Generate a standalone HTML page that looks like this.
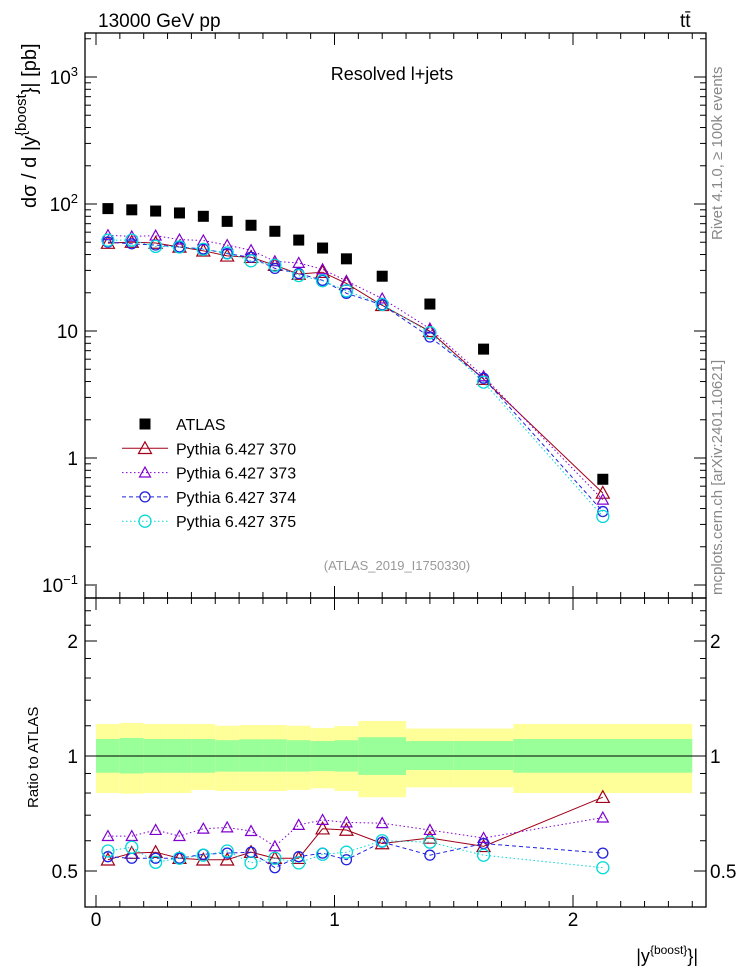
<!DOCTYPE html>
<html><head><meta charset="utf-8"><style>
body{margin:0;background:#fff}
svg{display:block;font-family:"Liberation Sans",sans-serif}
</style></head><body>
<svg id="c" width="746" height="972" xmlns="http://www.w3.org/2000/svg">
<text x="98" y="27" font-size="19">13000 GeV pp</text>
<text x="680" y="27" font-size="19">tt̄</text>
<text x="392" y="80" font-size="18" text-anchor="middle">Resolved l+jets</text>
<text x="397" y="570" font-size="13" fill="#999" text-anchor="middle">(ATLAS_2019_I1750330)</text>
<text transform="translate(722,240) rotate(-90)" font-size="15" fill="#888">Rivet 4.1.0, ≥ 100k events</text>
<text transform="translate(722,595) rotate(-90)" font-size="15" fill="#888">mcplots.cern.ch [arXiv:2401.10621]</text>
<text transform="translate(36,208) rotate(-90)" font-size="20">dσ / d |y<tspan dy="-10" font-size="15">{boost</tspan><tspan dy="10">}| [pb]</tspan></text>
<text transform="translate(38,808) rotate(-90)" font-size="15">Ratio to ATLAS</text>
<text x="698" y="962" font-size="18" text-anchor="end">|y<tspan dy="-8" font-size="12">{boost}</tspan><tspan dy="8">}|</tspan></text>
<g id="bands"></g><g id="marks"></g><g id="axes"></g><g id="legend"></g>
</svg>
<script>
const binLo=[0,0.1,0.2,0.3,0.4,0.5,0.6,0.7,0.8,0.9,1.0,1.1,1.3,1.5,1.75];
const binHi=[0.1,0.2,0.3,0.4,0.5,0.6,0.7,0.8,0.9,1.0,1.1,1.3,1.5,1.75,2.5];
const xCenters=[0.05,0.15,0.25,0.35,0.45,0.55,0.65,0.75,0.85,0.95,1.05,1.2,1.4,1.625,2.125];
const atlas=[92,90,88,85,80,73,68,61,52,45,37,27,16.3,7.2,0.68];
const r370=[0.535,0.557,0.56,0.54,0.535,0.535,0.56,0.54,0.54,0.645,0.64,0.59,0.61,0.58,0.78];
const r373=[0.617,0.617,0.64,0.617,0.645,0.65,0.636,0.58,0.66,0.68,0.67,0.667,0.64,0.61,0.69];
const r374=[0.545,0.54,0.54,0.54,0.553,0.557,0.56,0.51,0.545,0.557,0.535,0.595,0.55,0.59,0.557];
const r375=[0.564,0.577,0.527,0.54,0.55,0.564,0.525,0.54,0.525,0.553,0.56,0.6,0.595,0.55,0.51];
const yelTop=[1.213,1.22,1.213,1.213,1.213,1.20,1.205,1.205,1.20,1.184,1.198,1.235,1.18,1.18,1.213];
const grnTop=[1.108,1.115,1.108,1.108,1.108,1.10,1.106,1.106,1.10,1.094,1.10,1.12,1.094,1.094,1.108];
const grnBot=[0.904,0.90,0.904,0.904,0.904,0.91,0.91,0.91,0.91,0.913,0.91,0.892,0.919,0.919,0.904];
const yelBot=[0.80,0.797,0.80,0.80,0.815,0.81,0.81,0.81,0.815,0.823,0.81,0.78,0.828,0.828,0.80];
const xTicks=[0,1,2];
const yTicksMain=[0.1,1,10,100,1000];
const yTicksRatio=[0.5,1,2];

const NS="http://www.w3.org/2000/svg";
const L=85,Rt=706,T=33,MB=598,RB=907;
const X=v=>96+238.5*v;
const Y=v=>331-127*Math.log10(v/10);
const R=r=>756-115*Math.log2(r);
function mk(p,tag,at){const e=document.createElementNS(NS,tag);for(const k in at)e.setAttribute(k,at[k]);p.appendChild(e);return e;}
const bands=document.getElementById('bands'),marks=document.getElementById('marks'),axes=document.getElementById('axes'),leg=document.getElementById('legend');

for(let i=0;i<binLo.length;i++){
  let e=mk(bands,'rect',{x:X(binLo[i]),y:R(yelTop[i]),width:X(binHi[i])-X(binLo[i]),height:R(yelBot[i])-R(yelTop[i]),fill:'#ffff99'});
  
  
  let g=mk(bands,'rect',{x:X(binLo[i]),y:R(grnTop[i]),width:X(binHi[i])-X(binLo[i]),height:R(grnBot[i])-R(grnTop[i]),fill:'#99ff99'});
  
  
}
let ul=mk(bands,'line',{x1:L,x2:Rt,y1:R(1),y2:R(1),stroke:'#000','stroke-width':1});



const series=[
 {name:'Pythia 6.427 370',r:r370,color:'#a00018',dash:'',marker:'tri',size:6.5},
 {name:'Pythia 6.427 373',r:r373,color:'#8000d0',dash:'1.5,2.5',marker:'tri',size:5.5},
 {name:'Pythia 6.427 374',r:r374,color:'#2020e0',dash:'4,3',marker:'circ',size:5},
 {name:'Pythia 6.427 375',r:r375,color:'#00d8d8',dash:'1.5,2.5',marker:'circ',size:6}
];
function marker(p,type,x,y,s,c){
  if(type==='tri')return mk(p,'polygon',{points:`${x},${y-s} ${x-s},${y+s*0.8} ${x+s},${y+s*0.8}`,fill:'none',stroke:c,'stroke-width':1.2});
  if(type==='circ')return mk(p,'circle',{cx:x,cy:y,r:s,fill:'none',stroke:c,'stroke-width':1.3});
  return mk(p,'rect',{x:x-5.5,y:y-5.5,width:11,height:11,fill:'#000'});
}
series.forEach((s,si)=>{
  const mainPts=xCenters.map((x,i)=>[X(x),Y(atlas[i]*s.r[i])]);
  const ratPts=xCenters.map((x,i)=>[X(x),R(s.r[i])]);
  [mainPts,ratPts].forEach((pts,k)=>{
    let l=mk(marks,'polyline',{points:pts.map(p=>p.join(',')).join(' '),fill:'none',stroke:s.color,'stroke-width':1,'stroke-dasharray':s.dash});
    
    
    pts.forEach(p=>{
      let m=marker(marks,s.marker,p[0],p[1],s.size,s.color);
      
      
    });
  });
  const ly=424+24.3*(si+1);
  let ll=mk(leg,'line',{x1:122,x2:168,y1:ly,y2:ly,stroke:s.color,'stroke-dasharray':s.dash});
  
  
  let lm=marker(leg,s.marker,145,ly,s.size,s.color);
  
  
  let lt=mk(leg,'text',{x:176,y:ly+6,'font-size':16});lt.textContent=s.name;
  
  
});
xCenters.forEach((x,i)=>{
  let m=marker(marks,'sq',X(x),Y(atlas[i]));
  
  
});
let am=marker(leg,'sq',145,424);


let at=mk(leg,'text',{x:176,y:430,'font-size':16});at.textContent='ATLAS';



[[T,MB],[MB,RB]].forEach((f,i)=>{
  let r=mk(axes,'rect',{x:L,y:f[0],width:Rt-L,height:f[1]-f[0],fill:'none',stroke:'#000','stroke-width':1.3});
  
  
});
function tick(x1,y1,x2,y2){mk(axes,'line',{x1,y1,x2,y2,stroke:'#000','stroke-width':1});}
for(let k=0;k<=25;k++){const v=k/10,x=X(v),len=(k%10===0)?12:6;
  tick(x,MB,x,MB-len);tick(x,T,x,T+len);tick(x,RB,x,RB-len);tick(x,MB,x,MB+len);}
xTicks.forEach(v=>{let t=mk(axes,'text',{x:X(v),y:926,'font-size':19,'text-anchor':'middle'});t.textContent=v;
  
  });
for(let d=-1;d<=3;d++){for(let m=1;m<10;m++){const v=m*Math.pow(10,d),y=Y(v);if(y<T||y>MB)continue;const len=m===1?12:6;tick(L,y,L+len,y);tick(Rt,y,Rt-len,y);}}
yTicksMain.forEach(v=>{let t=mk(axes,'text',{x:78,y:Y(v)+7,'font-size':19,'text-anchor':'end'});
  if(v===0.1)t.innerHTML='10<tspan dy="-8" font-size="13">−1</tspan>';
  else if(v===1000)t.innerHTML='10<tspan dy="-8" font-size="13">3</tspan>';
  else if(v===100)t.innerHTML='10<tspan dy="-8" font-size="13">2</tspan>';
  else t.textContent=v;
  
  });
[0.5,0.6,0.7,0.8,0.9,1,1.2,1.4,1.6,1.8,2,2.2,2.4].forEach(v=>{const y=R(v);const len=yTicksRatio.includes(v)?12:6;tick(L,y,L+len,y);tick(Rt,y,Rt-len,y);});
yTicksRatio.forEach(v=>{[78,710].forEach((x,k)=>{let t=mk(axes,'text',{x:x,y:R(v)+7,'font-size':19,'text-anchor':k?'start':'end'});t.textContent=v;
  
  });});
</script>
</body></html>
